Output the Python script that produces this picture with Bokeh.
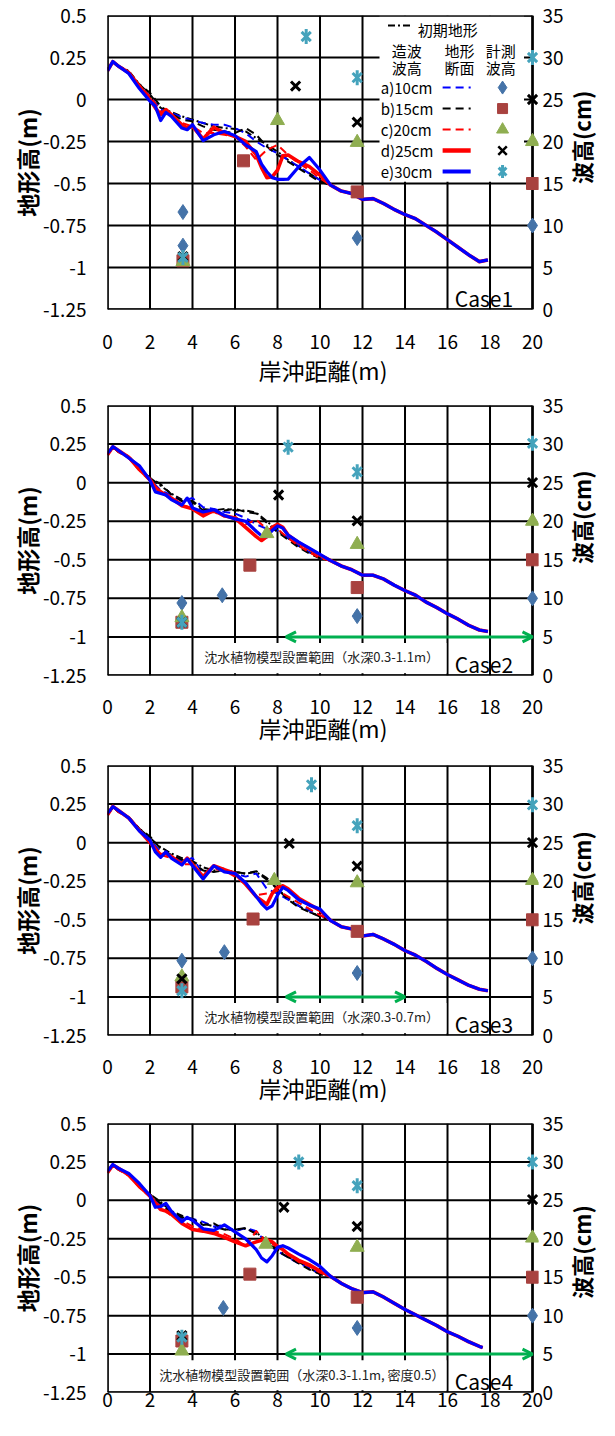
import math
from bokeh.plotting import figure
from bokeh.models import Range1d, LinearAxis, FixedTicker, Label, Arrow, OpenHead
from bokeh.layouts import column, row
from bokeh.embed import file_html
from bokeh.resources import INLINE

FONT = "Noto Sans CJK JP"

# ---------------- axes / ticks ----------------
X_TICKS = [0, 2, 4, 6, 8, 10, 12, 14, 16, 18, 20]
Y_TICKS = [-1.25, -1.0, -0.75, -0.5, -0.25, 0.0, 0.25, 0.5]
Y_LABELS = ["-1.25", "-1", "-0.75", "-0.5", "-0.25", "0", "0.25", "0.5"]
H_TICKS = [0, 5, 10, 15, 20, 25, 30, 35]
H_LABELS = ["0", "5", "10", "15", "20", "25", "30", "35"]

SERIES = ["a)10cm", "b)15cm", "c)20cm", "d)25cm", "e)30cm"]
CASES = ["Case1", "Case2", "Case3", "Case4"]
ZONE_TEXT = [None,
             "沈水植物模型設置範囲（水深0.3-1.1m）",
             "沈水植物模型設置範囲（水深0.3-0.7m）",
             "沈水植物模型設置範囲（水深0.3-1.1m, 密度0.5）"]
ZONE_START = [None, 8.4, 8.4, 8.4]
ZONE_END = [None, 20.0, 14.0, 20.0]

# ---------------- profile data (x in m, elevation in m) ----------------
CX = [0, 0.25, 0.5, 1, 1.5, 2, 2.5, 3, 3.5, 4, 4.5, 5, 5.5, 6, 6.5, 7, 7.5, 8, 8.5, 9, 9.5, 10]
FX = [0, 0.25, 0.5, 1, 1.5, 2, 2.25, 2.5, 2.75, 3, 3.5, 3.75, 4, 4.5, 5, 5.5, 6, 6.5, 7,
      7.25, 7.5, 7.75, 8, 8.25, 8.5, 9, 9.5, 10]
TAIL_X_A = [10.5, 11, 11.5, 12, 12.5, 13, 13.5, 14, 14.5, 15, 15.5, 16, 16.5, 17, 17.5, 17.9]
TAIL_X_B = [10.5, 11, 11.5, 12, 12.5, 13, 13.5, 14, 14.5, 15, 15.5, 16, 16.5, 17, 17.5, 17.65]

# Case1
INIT_1 = [0.18, 0.225, 0.2, 0.17, 0.09, 0.03, -0.05, -0.075, -0.1, -0.12, -0.14, -0.16, -0.17, -0.175,
          -0.19, -0.23, -0.27, -0.31, -0.36, -0.40, -0.44, -0.48]
A_1 = [0.18, 0.225, 0.2, 0.165, 0.085, 0.02, -0.06, -0.08, -0.105, -0.125, -0.14, -0.15, -0.15, -0.17,
       -0.2, -0.25, -0.29, -0.32, -0.36, -0.40, -0.44, -0.48]
B_1 = [0.18, 0.225, 0.2, 0.165, 0.09, 0.04, -0.04, -0.085, -0.12, -0.13, -0.16, -0.18, -0.19, -0.2,
       -0.17, -0.21, -0.28, -0.33, -0.37, -0.41, -0.45, -0.49]
C_1 = [0.18, 0.225, 0.2, 0.16, 0.08, 0.02, -0.07, -0.1, -0.14, -0.16, -0.2, -0.2, -0.21, -0.22,
       -0.28, -0.36, -0.3, -0.27, -0.33, -0.38, -0.42, -0.47]
D_1 = [0.17, 0.225, 0.2, 0.16, 0.08, 0.0, -0.05, -0.09, -0.06, -0.09, -0.15, -0.17, -0.16, -0.235,
       -0.165, -0.2, -0.22, -0.25, -0.33, -0.405, -0.465, -0.46, -0.42, -0.335, -0.33, -0.37, -0.4, -0.45]
E_1 = [0.17, 0.226, 0.2, 0.155, 0.065, -0.01, -0.04, -0.125, -0.077, -0.1, -0.17, -0.18, -0.15, -0.245,
       -0.21, -0.19, -0.215, -0.27, -0.31, -0.385, -0.43, -0.465, -0.475, -0.475, -0.474, -0.40, -0.345, -0.42]
TAIL_1 = [-0.51, -0.545, -0.56, -0.595, -0.59, -0.62, -0.655, -0.685, -0.71, -0.75, -0.79, -0.835,
          -0.88, -0.925, -0.965, -0.955]

# Case2
INIT_2 = [0.18, 0.23, 0.21, 0.17, 0.1, 0.03, -0.02, -0.07, -0.11, -0.12, -0.17, -0.18, -0.17, -0.18,
          -0.18, -0.195, -0.25, -0.31, -0.36, -0.41, -0.45, -0.485]
A_2 = [0.18, 0.23, 0.21, 0.165, 0.09, 0.02, -0.05, -0.08, -0.12, -0.1, -0.16, -0.17, -0.19, -0.2,
       -0.23, -0.27, -0.3, -0.31, -0.36, -0.41, -0.45, -0.49]
B_2 = [0.18, 0.23, 0.2, 0.165, 0.09, 0.03, -0.01, -0.075, -0.12, -0.125, -0.18, -0.19, -0.18, -0.17,
       -0.19, -0.2, -0.26, -0.32, -0.37, -0.42, -0.46, -0.49]
C_2 = [0.18, 0.23, 0.2, 0.16, 0.08, 0.01, -0.06, -0.09, -0.14, -0.17, -0.2, -0.19, -0.22, -0.22,
       -0.27, -0.24, -0.3, -0.3, -0.36, -0.41, -0.45, -0.49]
D_2 = [0.18, 0.232, 0.21, 0.165, 0.085, 0.02, -0.03, -0.06, -0.08, -0.1, -0.15, -0.16, -0.17, -0.215,
       -0.18, -0.215, -0.23, -0.29, -0.35, -0.375, -0.35, -0.29, -0.27, -0.29, -0.34, -0.39, -0.43, -0.47]
E_2 = [0.19, 0.233, 0.21, 0.16, 0.11, 0.015, -0.06, -0.07, -0.08, -0.11, -0.145, -0.1, -0.165, -0.19,
       -0.175, -0.213, -0.235, -0.25, -0.315, -0.345, -0.35, -0.31, -0.28, -0.295, -0.34, -0.385, -0.425, -0.465]
TAIL_2 = [-0.505, -0.54, -0.565, -0.6, -0.6, -0.625, -0.665, -0.7, -0.73, -0.775, -0.81, -0.85,
          -0.885, -0.925, -0.955, -0.965]

# Case3
INIT_3 = [0.18, 0.23, 0.21, 0.165, 0.09, 0.03, -0.03, -0.07, -0.1, -0.12, -0.16, -0.18, -0.18, -0.19,
          -0.2, -0.19, -0.24, -0.3, -0.36, -0.41, -0.45, -0.475]
A_3 = [0.18, 0.23, 0.21, 0.16, 0.085, 0.02, -0.06, -0.09, -0.12, -0.1, -0.2, -0.16, -0.17, -0.2,
       -0.22, -0.2, -0.3, -0.33, -0.37, -0.41, -0.44, -0.47]
B_3 = [0.18, 0.23, 0.2, 0.165, 0.09, 0.04, -0.04, -0.08, -0.11, -0.13, -0.18, -0.19, -0.18, -0.19,
       -0.2, -0.185, -0.23, -0.3, -0.37, -0.42, -0.45, -0.48]
C_3 = [0.18, 0.23, 0.2, 0.16, 0.08, 0.01, -0.08, -0.1, -0.14, -0.14, -0.22, -0.17, -0.18, -0.22,
       -0.27, -0.34, -0.33, -0.31, -0.35, -0.39, -0.43, -0.47]
D_3 = [0.18, 0.235, 0.21, 0.16, 0.08, 0.0, -0.04, -0.08, -0.07, -0.09, -0.14, -0.1, -0.14, -0.22,
       -0.15, -0.175, -0.2, -0.27, -0.35, -0.375, -0.4, -0.33, -0.29, -0.28, -0.3, -0.36, -0.4, -0.44]
E_3 = [0.19, 0.233, 0.21, 0.16, 0.075, 0.015, -0.06, -0.095, -0.06, -0.1, -0.145, -0.105, -0.15, -0.235,
       -0.15, -0.19, -0.2, -0.26, -0.35, -0.395, -0.43, -0.41, -0.34, -0.29, -0.31, -0.37, -0.405, -0.43]
TAIL_3 = [-0.505, -0.545, -0.56, -0.605, -0.595, -0.625, -0.66, -0.7, -0.73, -0.77, -0.815, -0.855,
          -0.89, -0.925, -0.95, -0.96]

# Case4
INIT_4 = [0.18, 0.23, 0.21, 0.17, 0.1, 0.04, -0.01, -0.07, -0.1, -0.13, -0.15, -0.17, -0.19, -0.19,
          -0.185, -0.21, -0.26, -0.32, -0.37, -0.4, -0.44, -0.48]
A_4 = [0.18, 0.23, 0.21, 0.165, 0.09, 0.03, -0.03, -0.08, -0.12, -0.12, -0.14, -0.17, -0.16, -0.2,
       -0.18, -0.2, -0.28, -0.33, -0.37, -0.41, -0.44, -0.48]
B_4 = [0.18, 0.23, 0.2, 0.165, 0.095, 0.04, -0.02, -0.08, -0.11, -0.12, -0.16, -0.15, -0.19, -0.19,
       -0.18, -0.22, -0.27, -0.33, -0.37, -0.41, -0.45, -0.48]
C_4 = [0.18, 0.23, 0.2, 0.16, 0.085, 0.02, -0.04, -0.1, -0.13, -0.17, -0.19, -0.2, -0.22, -0.25,
       -0.3, -0.2, -0.27, -0.3, -0.35, -0.4, -0.43, -0.47]
D_4 = [0.18, 0.23, 0.21, 0.165, 0.09, 0.03, -0.02, -0.06, -0.07, -0.09, -0.15, -0.17, -0.19, -0.2,
       -0.215, -0.24, -0.27, -0.295, -0.27, -0.26, -0.255, -0.27, -0.3, -0.32, -0.35, -0.39, -0.42, -0.46]
E_4 = [0.19, 0.233, 0.21, 0.175, 0.11, 0.03, -0.045, -0.04, -0.02, -0.07, -0.14, -0.11, -0.13, -0.185,
       -0.195, -0.16, -0.205, -0.25, -0.32, -0.375, -0.4, -0.36, -0.306, -0.295, -0.31, -0.35, -0.385, -0.43]
TAIL_4 = [-0.495, -0.54, -0.575, -0.6, -0.595, -0.63, -0.67, -0.71, -0.745, -0.78, -0.815, -0.855,
          -0.885, -0.92, -0.95, -0.958]

# ---------------- measured wave heights (x in m, H in cm) ----------------
DIA_X = [[3.55, 3.55, 11.75, 20], [3.5, 5.4, 11.75, 20], [3.5, 5.5, 11.75, 20], [3.5, 5.45, 11.75, 20]]
DIA_H = [[11.6, 7.6, 8.5, 10.0], [9.4, 10.4, 7.7, 10.0], [9.7, 10.8, 8.1, 10.0], [7.0, 11.0, 8.4, 10.0]]
SQ_X = [[3.55, 6.4, 11.75, 20], [3.5, 6.7, 11.75, 20], [3.5, 6.85, 11.75, 20], [3.5, 6.7, 11.75, 20]]
SQ_H = [[5.8, 17.7, 14.0, 15.0], [6.9, 14.3, 11.4, 15.0], [6.3, 15.1, 13.5, 15.0], [6.7, 15.4, 12.4, 15.0]]
TRI_X = [[3.55, 8.0, 11.75, 20], [3.5, 7.5, 11.75, 20], [3.5, 7.85, 11.75, 20], [3.5, 7.45, 11.75, 20]]
TRI_H = [[5.7, 22.5, 19.9, 20.0], [7.5, 18.4, 17.0, 20.0], [7.6, 20.1, 19.8, 20.1], [5.4, 19.3, 18.9, 20.1]]
XX_X = [[3.55, 8.85, 11.75, 20], [3.5, 8.05, 11.75, 20], [3.5, 8.55, 11.75, 20], [3.5, 8.3, 11.75, 20]]
XX_H = [[6.3, 26.6, 22.3, 25.0], [6.9, 23.4, 20.05, 25.0], [7.35, 24.9, 21.95, 25.0], [7.4, 24.1, 21.6, 25.1]]
AST_X = [[3.55, 9.35, 11.75, 20], [3.5, 8.5, 11.75, 20], [3.5, 9.6, 11.75, 20], [3.5, 9.0, 11.75, 20]]
AST_H = [[6.2, 32.5, 27.6, 30.0], [6.9, 29.6, 26.4, 30.1], [5.8, 32.5, 27.2, 29.9], [7.2, 30.0, 26.9, 30.0]]

PROFILES = [
    (INIT_1, A_1, B_1, C_1, D_1, E_1, TAIL_X_A, TAIL_1),
    (INIT_2, A_2, B_2, C_2, D_2, E_2, TAIL_X_A, TAIL_2),
    (INIT_3, A_3, B_3, C_3, D_3, E_3, TAIL_X_A, TAIL_3),
    (INIT_4, A_4, B_4, C_4, D_4, E_4, TAIL_X_B, TAIL_4),
]

# ---------------- styles ----------------
BLUE, RED, BLACK = "#0000FF", "#FF0000", "#000000"
C_DIA, C_SQ, C_TRI, C_AST = "#4573A8", "#A8423F", "#8FAE51", "#45A3BC"
GREEN = "#00B050"
LINE_STYLES = [  # (color, width, dash)
    (BLUE, 2, "8 5"), (BLACK, 2, "8 5"), (RED, 2, "8 5"), (RED, 3.6, "solid"), (BLUE, 3.2, "solid")]

# ---------------- geometry ----------------
SIDE_W = 33                      # narrow strip that carries the right-hand axis title
MAIN_W = 599 - SIDE_W
BORDER_L = 107
FRAME_W = 432                    # x = 0..20 spans 426 px, 6 px extra for edge markers
BORDER_R = MAIN_W - BORDER_L - FRAME_W
XR_END = 20.0 * FRAME_W / 426.0
HEIGHTS = [391, 360, 358, 311]
TOPS = [15, 14, 14, 14]
BOTTOMS = [82, 76, 74, 28]
PLOT_H = [294, 270, 270, 269]
X_STANDOFF = [25, 24, 24, 0]
X_TITLE_STANDOFF = [1, -6, -6, 0]


def marker_layer(p, i, rn):
    p.scatter(DIA_X[i], DIA_H[i], marker="diamond", size=15, color=C_DIA, y_range_name=rn)
    p.scatter(SQ_X[i], SQ_H[i], marker="square", size=12, color=C_SQ, y_range_name=rn)
    p.scatter(TRI_X[i], TRI_H[i], marker="triangle", size=14, color=C_TRI, y_range_name=rn)
    p.scatter(XX_X[i], XX_H[i], marker="x", size=13, line_color=BLACK, line_width=3, y_range_name=rn)
    p.scatter(AST_X[i], AST_H[i], marker="x", size=13, line_color=C_AST, line_width=3, y_range_name=rn)
    p.scatter(AST_X[i], AST_H[i], marker="dash", angle=math.pi / 2, size=15, line_color=C_AST,
              line_width=3, y_range_name=rn)


def make_side(i):
    s = figure(width=SIDE_W, height=HEIGHTS[i], x_range=Range1d(0, 1), y_range=Range1d(0, 1),
               output_backend="svg", toolbar_location=None,
               min_border_left=0, min_border_right=0, min_border_top=0, min_border_bottom=0)
    s.axis.visible = False
    s.grid.visible = False
    s.outline_line_color = None
    yc = 1.0 - (TOPS[i] + PLOT_H[i] / 2.0) / HEIGHTS[i]
    s.add_layout(Label(x=0.45, y=yc, text="波高(cm)", angle=math.pi / 2, text_align="center",
                       text_baseline="middle", text_font=FONT, text_font_size="22px",
                       text_font_style="bold", text_color="black"))
    return s


def make_panel(i):
    p = figure(width=MAIN_W, height=HEIGHTS[i], x_range=Range1d(0, XR_END), y_range=Range1d(-1.25, 0.5),
               output_backend="svg", toolbar_location=None,
               min_border_left=BORDER_L, min_border_right=BORDER_R,
               min_border_top=TOPS[i], min_border_bottom=BOTTOMS[i])
    p.extra_y_ranges = {"wave": Range1d(0, 35)}
    p.outline_line_color = None
    p.xgrid.visible = False
    p.ygrid.visible = False
    px_per_m = PLOT_H[i] / 1.75

    # axes
    p.xaxis.ticker = FixedTicker(ticks=X_TICKS)
    p.yaxis.ticker = FixedTicker(ticks=Y_TICKS)
    p.yaxis.major_label_overrides = {t: s for t, s in zip(Y_TICKS, Y_LABELS)}
    ax_r = LinearAxis(y_range_name="wave", ticker=FixedTicker(ticks=H_TICKS))
    ax_r.major_label_overrides = {t: s for t, s in zip(H_TICKS, H_LABELS)}
    p.add_layout(ax_r, "right")
    for ax in [p.xaxis[0], p.yaxis[0], ax_r]:
        ax.axis_line_color = None
        ax.major_tick_line_color = None
        ax.minor_tick_line_color = None
        ax.major_tick_out = 0
        ax.major_tick_in = 0
        ax.major_label_text_font = FONT
        ax.major_label_text_font_size = "19px"
        ax.major_label_text_color = "black"
        ax.axis_label_text_font = FONT
        ax.axis_label_text_font_size = "23px"
        ax.axis_label_text_color = "black"
    p.yaxis[0].major_label_standoff = 21
    p.yaxis[0].axis_label = "地形高(m)"
    p.yaxis[0].axis_label_text_font_style = "bold"
    p.yaxis[0].axis_label_standoff = -4
    ax_r.major_label_standoff = 4
    p.xaxis[0].major_label_standoff = X_STANDOFF[i]
    if i < 3:
        p.xaxis[0].axis_label = "岸沖距離(m)"
        p.xaxis[0].axis_label_text_font_style = "normal"
        p.xaxis[0].axis_label_standoff = X_TITLE_STANDOFF[i]

    # grid
    p.segment(x0=X_TICKS, y0=[-1.25] * len(X_TICKS), x1=X_TICKS, y1=[0.5] * len(X_TICKS),
              line_color=BLACK, line_width=2)
    p.segment(x0=[0] * len(Y_TICKS), y0=Y_TICKS, x1=[20] * len(Y_TICKS), y1=Y_TICKS,
              line_color=BLACK, line_width=2)

    # profiles
    init, a, b, c, d, e, tx, ty = PROFILES[i]
    p.line(CX + tx, init + ty, line_color=BLACK, line_width=2, line_dash="7 3 2 3")
    for vals, xs, (col, w, dash) in zip([a, b, c, d, e], [CX, CX, CX, FX, FX], LINE_STYLES):
        p.line(xs + tx, vals + ty, line_color=col, line_width=w, line_dash=dash, line_join="round")

    # vegetation zone
    if ZONE_TEXT[i] is not None:
        left = 4.2 if i < 3 else 2.35
        p.quad(left=[left], right=[15.95], top=[-1.04], bottom=[-1.235], fill_color="white", line_color=None)
        p.add_layout(Arrow(start=OpenHead(size=10, line_color=GREEN, line_width=3),
                           end=OpenHead(size=10, line_color=GREEN, line_width=3),
                           x_start=ZONE_START[i], y_start=-1.0, x_end=ZONE_END[i], y_end=-1.0,
                           line_color=GREEN, line_width=3))
        p.add_layout(Label(x=(left + 15.95) / 2, y=-1.13, text=ZONE_TEXT[i], text_align="center",
                           text_baseline="middle", text_font=FONT, text_font_size="13px",
                           text_color="#222222"))

    # legend (Case1 only)
    if i == 0:
        p.quad(left=[12.8], right=[19.6], top=[0.5], bottom=[-0.49], fill_color="white", line_color=None)

    # frame border
    p.segment(x0=[0, 20, 0, 0], y0=[-1.25, -1.25, 0.5, -1.25], x1=[0, 20, 20, 20], y1=[0.5, 0.5, 0.5, -1.25],
              line_color=BLACK, line_width=2.5)

    marker_layer(p, i, "wave")

    if i == 0:
        p.line([13.2, 14.3], [0.44, 0.44], line_color=BLACK, line_width=2, line_dash="7 3 2 3")
        p.add_layout(Label(x=14.6, y=0.417, text="初期地形", text_baseline="middle", text_font=FONT,
                           text_font_size="15px", text_color="black"))
        for hx, t1, t2 in [(14.08, "造波", "波高"), (16.57, "地形", "断面"), (18.5, "計測", "波高")]:
            p.add_layout(Label(x=hx, y=0.292, text=t1, text_align="center", text_baseline="middle",
                               text_font=FONT, text_font_size="15px", text_color="black"))
            p.add_layout(Label(x=hx, y=0.19, text=t2, text_align="center", text_baseline="middle",
                               text_font=FONT, text_font_size="15px", text_color="black"))
        rows = [0.071, -0.054, -0.179, -0.304, -0.429]
        for ry, name, (col, w, dash) in zip(rows, SERIES, LINE_STYLES):
            p.add_layout(Label(x=12.86, y=ry, text=name, text_baseline="middle", text_font=FONT,
                               text_font_size="15px", text_color="black"))
            p.line([15.77, 17.09], [ry, ry], line_color=col, line_width=w + 0.8 if dash == "solid" else w,
                   line_dash=dash)
        mx = 18.59
        p.scatter([mx], [rows[0]], marker="diamond", size=13, color=C_DIA)
        p.scatter([mx], [rows[1]], marker="square", size=10, color=C_SQ)
        p.scatter([mx], [rows[2]], marker="triangle", size=12, color=C_TRI)
        p.scatter([mx], [rows[3]], marker="x", size=12, line_color=BLACK, line_width=2.5)
        p.scatter([mx], [rows[4]], marker="x", size=11, line_color=C_AST, line_width=3)
        p.scatter([mx], [rows[4]], marker="dash", angle=math.pi / 2, size=13, line_color=C_AST, line_width=3)

    p.add_layout(Label(x=16.34, y=-1.25 - 3.0 / px_per_m, text=CASES[i], text_baseline="bottom",
                       text_font=FONT, text_font_size="21px", text_color="black"))
    return p


layout = column(*[row(make_panel(i), make_side(i), spacing=0) for i in range(4)], spacing=0)
open("out.html", "w").write(file_html(layout, INLINE))
